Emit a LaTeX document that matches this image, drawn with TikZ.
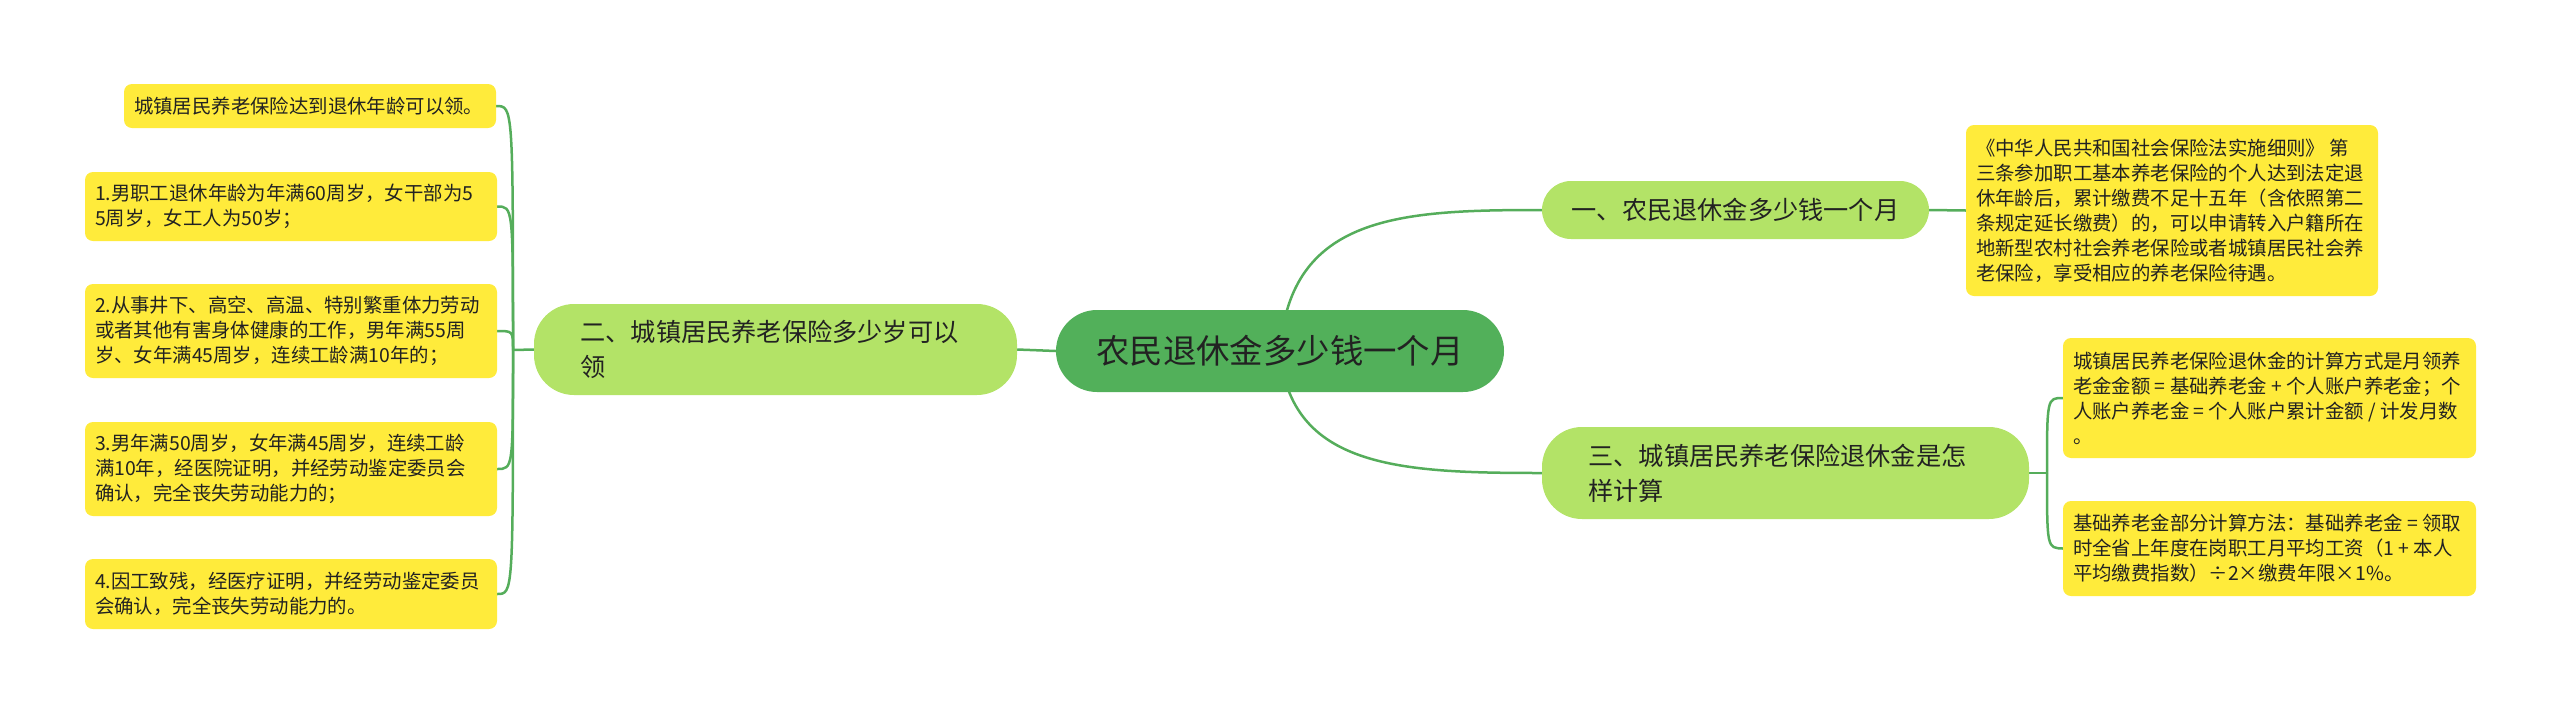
\documentclass[tikz,border=0pt]{standalone}
\usepackage{fontspec}
\setmainfont{Noto Sans CJK SC}
\newfontfamily\cjk{Noto Sans CJK SC}
\usetikzlibrary{calc}
\pgfdeclarelayer{bg}
\pgfsetlayers{bg,main}
\definecolor{rootgreen}{HTML}{52B05A}
\definecolor{branchgreen}{HTML}{B3E367}
\definecolor{leafyellow}{HTML}{FFEB3B}
\definecolor{linegreen}{HTML}{55AD5B}
\definecolor{txt}{HTML}{222222}
\begin{document}
\begin{tikzpicture}[x=1pt,y=-1pt,
 leaf/.style={fill=leafyellow, rounded corners=8pt, inner sep=0pt, align=flush left,
   font=\cjk\fontsize{19.4}{25}\selectfont, text=txt},
 branch/.style={fill=branchgreen, inner sep=0pt, align=flush left,
   font=\cjk\fontsize{25.2}{35}\selectfont, text=txt},
 rootnode/.style={fill=rootgreen, rounded corners=41pt, inner sep=0pt,
   font=\cjk\fontsize{33.4}{40}\selectfont, text=txt},
 conn/.style={draw=linegreen, line width=2.5pt}]
\useasboundingbox (0,0) rectangle (2560,713);

% root
\node[rootnode, minimum width=448pt, minimum height=82pt] (root) at (1280,351) {农民退休金多少钱一个月};

% branches
\node[branch, rounded corners=29pt, minimum width=387pt, minimum height=58pt] (b1) at (1735.5,210) {一、农民退休金多少钱一个月};
\node[branch, rounded corners=40pt, minimum width=483pt, minimum height=91pt, text width=390pt] (b2) at (775.5,349.5) {二、城镇居民养老保险多少岁可以\\领};
\node[branch, rounded corners=40pt, minimum width=487pt, minimum height=92pt, text width=394pt] (b3) at (1785.5,473) {三、城镇居民养老保险退休金是怎\\样计算};

% left leaves
\node[leaf, minimum width=372pt, minimum height=44pt, text width=352pt] (l1) at (310,106) {城镇居民养老保险达到退休年龄可以领。};
\node[leaf, minimum width=412pt, minimum height=69pt, text width=392pt] (l2) at (291,206.5) {1.男职工退休年龄为年满60周岁，女干部为5\\5周岁，女工人为50岁；};
\node[leaf, minimum width=412pt, minimum height=94pt, text width=392pt] (l3) at (291,331) {2.从事井下、高空、高温、特别繁重体力劳动\\或者其他有害身体健康的工作，男年满55周\\岁、女年满45周岁，连续工龄满10年的；};
\node[leaf, minimum width=412pt, minimum height=94pt, text width=392pt] (l4) at (291,469) {3.男年满50周岁，女年满45周岁，连续工龄\\满10年，经医院证明，并经劳动鉴定委员会\\确认，完全丧失劳动能力的；};
\node[leaf, minimum width=412pt, minimum height=70pt, text width=392pt] (l5) at (291,594) {4.因工致残，经医疗证明，并经劳动鉴定委员\\会确认，完全丧失劳动能力的。};

% right leaves
\node[leaf, minimum width=412pt, minimum height=171pt, text width=392pt] (r1) at (2172,210.5) {《中华人民共和国社会保险法实施细则》~第\\三条参加职工基本养老保险的个人达到法定退\\休年龄后，累计缴费不足十五年（含依照第二\\条规定延长缴费）的，可以申请转入户籍所在\\地新型农村社会养老保险或者城镇居民社会养\\老保险，享受相应的养老保险待遇。};
\node[leaf, minimum width=413pt, minimum height=120pt, text width=393pt] (r2) at (2269.5,398) {城镇居民养老保险退休金的计算方式是月领养\\老金金额~=~基础养老金~+~个人账户养老金；个\\人账户养老金~=~个人账户累计金额~/~计发月数\\。};
\node[leaf, minimum width=413pt, minimum height=95pt, text width=393pt] (r3) at (2269.5,548.5) {基础养老金部分计算方法：基础养老金~=~领取\\时全省上年度在岗职工月平均工资（1~+~本人\\平均缴费指数）÷2×缴费年限×1\%。};

% junctions
\coordinate (jl) at (513,350);
\coordinate (jr) at (2047,473);

\begin{pgfonlayer}{bg}
\draw[conn] (root.center) .. controls (1290,215) and (1400,210) .. (b1.west);
\draw[conn] (root.center) .. controls (1290,468) and (1400,473) .. (b3.west);
\draw[conn] (root.west) -- (b2.east);
\draw[conn] (b1.east) -- (r1.west);
\draw[conn] (b3.east) -- (jr);
\draw[conn] (jr) .. controls (2047,398) and (2047,398) .. (r2.west);
\draw[conn] (jr) .. controls (2047,548) and (2047,548) .. (r3.west);
\draw[conn] (b2.west) -- (jl);
\draw[conn] (jl) .. controls (513,106) and (513,106) .. (l1.east);
\draw[conn] (jl) .. controls (513,206.5) and (513,206.5) .. (l2.east);
\draw[conn] (jl) .. controls (513,331) and (513,331) .. (l3.east);
\draw[conn] (jl) .. controls (513,469) and (513,469) .. (l4.east);
\draw[conn] (jl) .. controls (513,594) and (513,594) .. (l5.east);
\end{pgfonlayer}
\end{tikzpicture}
\end{document}
